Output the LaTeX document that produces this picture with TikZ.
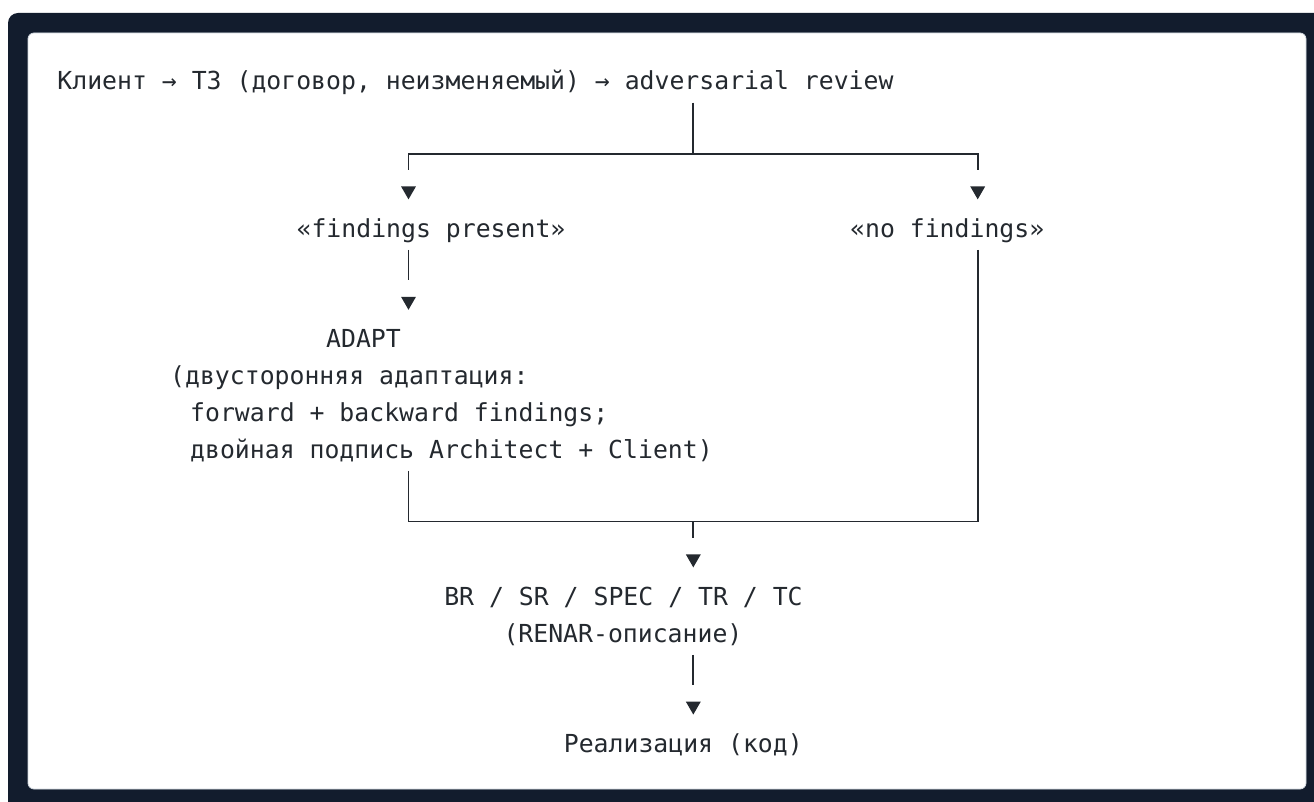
\documentclass[tikz,border=0pt]{standalone}
\usepackage{fontspec}
\newfontfamily\mono{DejaVu Sans Mono}
\usetikzlibrary{shapes.geometric}
\definecolor{navy}{HTML}{121C2D}
\definecolor{ink}{HTML}{24292F}
\definecolor{cardedge}{HTML}{D0D7DE}
\tikzset{
  txt/.style={inner sep=0pt, outer sep=0pt, text=ink, font=\mono\fontsize{24.8pt}{36.8pt}\selectfont, text height=18pt, text depth=6pt},
  blk/.style={inner sep=0pt, outer sep=0pt, text=ink, font=\mono\fontsize{24.8pt}{36.8pt}\selectfont},
  tri/.style={regular polygon, regular polygon sides=3, shape border rotate=180, fill=ink, draw=none, inner sep=0pt, outer sep=0pt, minimum size=17.3pt},
  wire/.style={draw=ink, line width=1.9pt},
}
\begin{document}
\begin{tikzpicture}[x=1pt,y=-1pt]
\useasboundingbox (0,0) rectangle (1314,802);
\clip (0,0) rectangle (1314,802);
\fill[white] (0,0) rectangle (1314,802);
\fill[navy, rounded corners=10pt] (8,13) rectangle (1340,830);
\filldraw[fill=white, draw=cardedge, line width=0.8pt, rounded corners=6pt] (28,33) rectangle (1306,789);

% text nodes
\node[txt, anchor=base] (top) at (475.5,90) {Клиент → ТЗ (договор, неизменяемый) → adversarial review};
\node[txt, anchor=base] (fp) at (431,237.2) {«findings present»};
\node[txt, anchor=base] (nf) at (947.2,237.2) {«no findings»};
\node[blk, anchor=base west] (adapt) at (170.2,347.6) {\begin{tabular}[t]{@{}l@{}}\hspace*{156pt}ADAPT\\(двусторонняя адаптация:\\\hspace*{20pt}forward + backward findings;\\\hspace*{20pt}двойная подпись Architect + Client)\end{tabular}};
\node[blk, anchor=base west] (spec) at (444.3,605.2) {\begin{tabular}[t]{@{}l@{}}BR / SR / SPEC / TR / TC\\\hspace*{59.2pt}(RENAR-описание)\end{tabular}};
\node[txt, anchor=base] (impl) at (683.3,752.4) {Реализация (код)};

% arrow heads
\node[tri] (t3l) at (408.5,190.7) {};
\node[tri] (t3r) at (977.7,190.7) {};
\node[tri] (t6) at (408.5,301.1) {};
\node[tri] (t13) at (693.3,558.7) {};
\node[tri] (t17) at (693.3,705.9) {};

% junctions
\coordinate (jt) at (693.3,154);
\coordinate (jbl) at (408.5,521.5);
\coordinate (jbr) at (977.7,521.5);

% connectors
\draw[wire, shorten <=6.7pt, shorten >=16.8pt] (top.south -| jt) -- (jt) -| (t3l.north);
\draw[wire, shorten >=16.8pt] (jt) -| (t3r.north);
\draw[wire, shorten <=6.8pt, shorten >=16.6pt] (fp.south -| t6.north) -- (t6.north);
\draw[wire, shorten <=1.8pt, shorten >=16.8pt] (adapt.south -| jbl) -- (jbl) -| (t13.north);
\draw[wire, shorten <=6.8pt, shorten >=16.8pt] (nf.south -| jbr) -- (jbr) -| (t13.north);
\draw[wire, shorten <=1.8pt, shorten >=16.8pt] (spec.south -| t17.north) -- (t17.north);
\end{tikzpicture}
\end{document}
